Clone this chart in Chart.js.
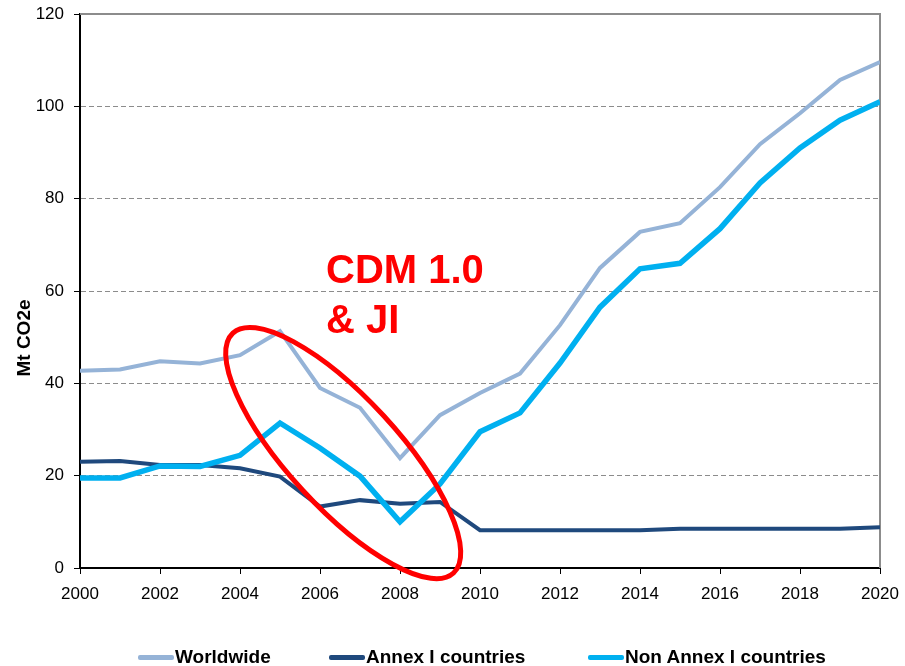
<!DOCTYPE html>
<html>
<head>
    <title>CDM & JI</title>
    <meta http-equiv="content-type" content="text/html;charset=UTF-8">
    <script src="https://cdn.jsdelivr.net/npm/chart.js"></script>
    <style>
        html, body {
            margin: 0;
            padding: 0;
            background: #fff;
        }

        .chart-box {
            position: relative;
            width: 905px;
            height: 666px;
        }

        .legend {
            position: absolute;
            left: 0;
            top: 645px;
            height: 24px;
            font-family: "Liberation Sans", Arial, sans-serif;
            font-weight: bold;
            font-size: 19px;
            color: #000;
        }

        .legend-item {
            position: absolute;
            top: 0;
            white-space: nowrap;
            display: flex;
            align-items: center;
            line-height: 24px;
        }

        .legend-line {
            display: inline-block;
            width: 36px;
            height: 5px;
            margin-right: 1px;
            border-radius: 2px;
        }
    </style>
</head>
<body>
<div class="chart-box">
    <canvas id="myChart"></canvas>
    <div class="legend" id="legend"></div>
</div>
<script>
    // values, Mt CO2e
    const years = [2000, 2001, 2002, 2003, 2004, 2005, 2006, 2007, 2008, 2009, 2010,
        2011, 2012, 2013, 2014, 2015, 2016, 2017, 2018, 2019, 2020];
    const worldwide = [42.7, 43, 44.8, 44.3, 46.1, 51.3, 39, 34.7, 23.8, 33.1, 37.9,
        42.1, 52.6, 65, 72.8, 74.7, 82.5, 91.8, 98.5, 105.7, 109.6];
    const annex1 = [23, 23.2, 22.3, 22.3, 21.6, 19.8, 13.3, 14.7, 13.9, 14.3, 8.2,
        8.2, 8.2, 8.2, 8.2, 8.5, 8.5, 8.5, 8.5, 8.5, 8.8];
    const nonAnnex1 = [19.5, 19.5, 22.1, 22, 24.4, 31.4, 26, 19.9, 10, 18.2, 29.5,
        33.6, 44.4, 56.5, 64.8, 66, 73.5, 83.4, 91, 97, 101];
    const yTicks = [0, 20, 40, 60, 80, 100, 120];
    const xTicks = [2000, 2002, 2004, 2006, 2008, 2010, 2012, 2014, 2016, 2018, 2020];

    const seriesNames = ['Worldwide', 'Annex I countries', 'Non Annex I countries'];
    const seriesColors = ['#95B3D7', '#1F497D', '#00B0F0'];
    const legendLeft = [138, 329, 588];

    const font = '"Liberation Sans", Arial, sans-serif';

    function points(values) {
        return years.map((yr, i) => ({x: yr, y: values[i]}));
    }

    // grey frame on top and right, the axis title, the red ellipse and the note
    const extras = {
        id: 'extras',
        beforeDatasetsDraw(chart) {
            const a = chart.chartArea;
            const ctx = chart.ctx;
            ctx.save();
            ctx.strokeStyle = '#8c8c8c';
            ctx.lineWidth = 2;
            ctx.beginPath();
            ctx.moveTo(a.left, a.top);
            ctx.lineTo(a.right, a.top);
            ctx.lineTo(a.right, a.bottom);
            ctx.stroke();

            // y title sits lower than the middle of the axis
            ctx.translate(25, 338);
            ctx.rotate(-Math.PI / 2);
            ctx.fillStyle = '#000';
            ctx.font = 'bold 19px ' + font;
            ctx.textAlign = 'center';
            ctx.textBaseline = 'middle';
            ctx.fillText('Mt CO2e', 0, 0);
            ctx.restore();
        },
        afterDatasetsDraw(chart) {
            const ctx = chart.ctx;
            const xs = chart.scales.x;
            const ys = chart.scales.y;
            ctx.save();
            ctx.strokeStyle = '#FF0000';
            ctx.lineWidth = 5;
            ctx.beginPath();
            ctx.ellipse(xs.getPixelForValue(2006.58), ys.getPixelForValue(24.9), 163, 55,
                47.4 * Math.PI / 180, 0, Math.PI * 2);
            ctx.stroke();

            ctx.fillStyle = '#FF0000';
            ctx.font = 'bold 40px ' + font;
            ctx.textBaseline = 'alphabetic';
            ctx.fillText('CDM 1.0', 326, 283);
            ctx.fillText('& JI', 326, 333);
            ctx.restore();
        }
    };

    new Chart(document.getElementById('myChart'), {
        type: 'line',
        data: {
            datasets: [{
                label: seriesNames[0],
                data: points(worldwide),
                borderColor: seriesColors[0],
                backgroundColor: seriesColors[0],
                borderWidth: 4,
                order: 0
            }, {
                label: seriesNames[1],
                data: points(annex1),
                borderColor: seriesColors[1],
                backgroundColor: seriesColors[1],
                borderWidth: 4,
                order: 2
            }, {
                label: seriesNames[2],
                data: points(nonAnnex1),
                borderColor: seriesColors[2],
                backgroundColor: seriesColors[2],
                borderWidth: 5.5,
                order: 1
            }]
        },
        options: {
            responsive: true,
            maintainAspectRatio: false,
            animation: false,
            elements: {
                point: {radius: 0},
                line: {tension: 0, borderJoinStyle: 'miter'}
            },
            layout: {
                padding: {top: 14, right: 25, left: 0, bottom: 0}
            },
            plugins: {
                legend: {display: false},
                tooltip: {enabled: false}
            },
            scales: {
                x: {
                    type: 'linear',
                    min: 2000,
                    max: 2020,
                    afterBuildTicks: scale => {
                        scale.ticks = xTicks.map(v => ({value: v}));
                    },
                    afterFit: scale => {
                        scale.height = 98;
                        scale.paddingLeft = 0;
                        scale.paddingRight = 0;
                    },
                    ticks: {
                        color: '#000',
                        font: {family: font, size: 17},
                        padding: 10,
                        maxRotation: 0,
                        callback: v => String(v)
                    },
                    grid: {
                        drawOnChartArea: false,
                        tickLength: 6,
                        tickColor: '#000',
                        tickWidth: 1
                    },
                    border: {color: '#000', width: 2}
                },
                y: {
                    min: 0,
                    max: 120,
                    afterBuildTicks: scale => {
                        scale.ticks = yTicks.map(v => ({value: v}));
                    },
                    afterFit: scale => {
                        scale.width = 80;
                        scale.paddingTop = 0;
                        scale.paddingBottom = 0;
                    },
                    ticks: {
                        color: '#000',
                        font: {family: font, size: 17},
                        padding: 10
                    },
                    grid: {
                        color: ctx => (ctx.tick && (ctx.tick.value === 0 || ctx.tick.value === 120)) ? 'rgba(0,0,0,0)' : '#8c8c8c',
                        lineWidth: 1,
                        tickLength: 6,
                        tickColor: '#000',
                        tickWidth: 1,
                        tickBorderDash: []
                    },
                    border: {color: '#000', width: 2, dash: [5, 3]}
                }
            }
        },
        plugins: [extras]
    });

    // legend under the chart, one line sample and name per series
    const legend = document.getElementById('legend');
    seriesNames.forEach((name, i) => {
        const item = document.createElement('div');
        item.className = 'legend-item';
        item.style.left = legendLeft[i] + 'px';
        item.innerHTML = '<span class="legend-line" style="background:' + seriesColors[i] + '"></span>' + name;
        legend.appendChild(item);
    });
</script>
</body>
</html>
